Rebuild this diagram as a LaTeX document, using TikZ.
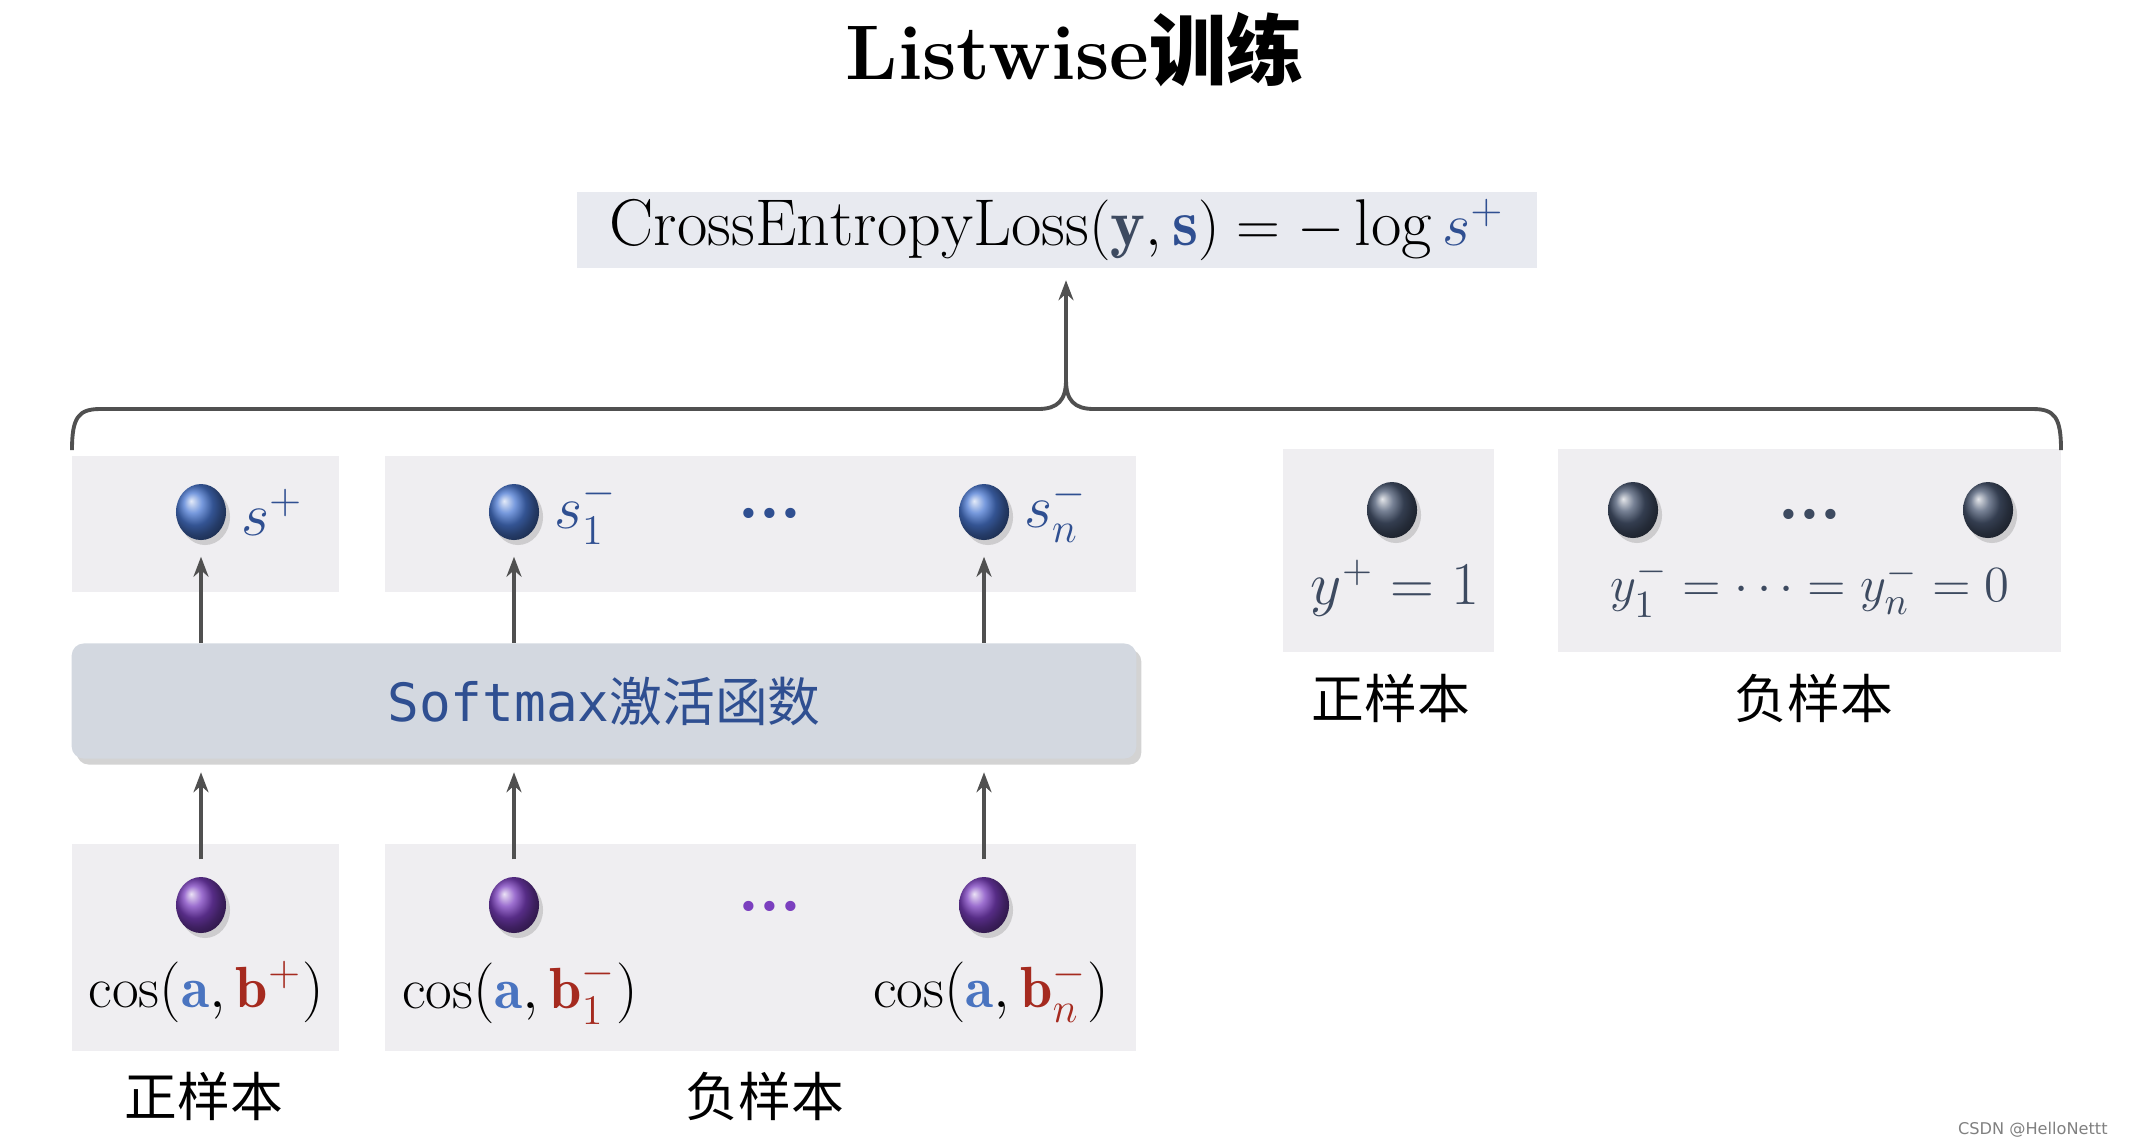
\documentclass[tikz,border=0pt]{standalone}
\usepackage{fontspec}
\usepackage{amsmath}
\newfontfamily\cjk{Noto Sans CJK SC}
\newfontfamily\monofnt{DejaVu Sans Mono}
\newfontfamily\markfnt{DejaVu Sans}
\usetikzlibrary{shapes.geometric,arrows.meta,positioning,shadows}

\definecolor{panelgray}{HTML}{EFEEF1}
\definecolor{lossbg}{HTML}{E8EAF0}
\definecolor{softbg}{HTML}{D3D8E0}
\definecolor{sblue}{HTML}{2F4F91}
\definecolor{acol}{HTML}{4A74C0}
\definecolor{bcol}{HTML}{A52A1F}
\definecolor{ycol}{HTML}{3D4A60}
\definecolor{arrgray}{HTML}{505050}
\definecolor{ballblue}{HTML}{4A78D2}
\definecolor{ballpurple}{HTML}{7B3FBF}
\definecolor{balldark}{HTML}{4A5872}

\begin{document}
\begin{tikzpicture}[x=0.01cm,y=-0.01cm,
  ball/.style={ellipse,minimum width=0.5cm,minimum height=0.56cm,inner sep=0,
    shading=ball,ball color=#1,
    drop shadow={shadow xshift=0.04cm,shadow yshift=-0.05cm,opacity=0.3}},
  arr/.style={draw=arrgray,line width=1pt,-{Stealth[length=0.2cm,width=0.15cm]}},
  lab/.style={font=\cjk\fontsize{15}{15}\selectfont},
  mlab/.style={font=\fontsize{16.5}{16.5}\selectfont},
  dotsnode/.style={font=\markfnt\fontsize{10}{10}\selectfont,text=#1,inner sep=0}]
\useasboundingbox (0,0) rectangle (2134,1144);

% title and loss
\node[font=\fontsize{22}{22}\selectfont\bfseries] (title) at (1075,50) {Listwise{\cjk\bfseries 训练}};
\node[fill=lossbg,inner sep=0,minimum width=9.6cm,minimum height=0.75cm,font=\fontsize{18.8}{18.8}\selectfont] (loss) at (1057,230)
  {$\mathrm{CrossEntropyLoss}(\textcolor{ycol}{\mathbf{y}},\textcolor{sblue}{\mathbf{s}})=-\log\textcolor{sblue}{s^{+}}$};

% panels
\fill[panelgray] (72,456) rectangle (339,592);
\fill[panelgray] (385,456) rectangle (1136,592);
\fill[panelgray] (72,844) rectangle (339,1051);
\fill[panelgray] (385,844) rectangle (1136,1051);
\fill[panelgray] (1283,449) rectangle (1494,652);
\fill[panelgray] (1558,449) rectangle (2061,652);

% softmax
\node[fill=softbg,rounded corners=0.12cm,minimum width=10.64cm,minimum height=1.15cm,
  drop shadow={shadow xshift=0.05cm,shadow yshift=-0.06cm,opacity=0.35},
  text=sblue,font=\fontsize{15}{15}\selectfont] (soft) at (604,701) {{\monofnt Softmax}{\cjk 激活函数}};

% scores
\node[ball=ballblue] (s0) at (201,512) {};
\node[ball=ballblue] (s1) at (514,512) {};
\node[ball=ballblue] (s2) at (984,512) {};
\node[font=\fontsize{18.5}{18.5}\selectfont,right=0.02cm of s0,text=sblue] (ls0) {$s^{+}$};
\node[font=\fontsize{18.5}{18.5}\selectfont,right=0.02cm of s1,text=sblue] (ls1) {$s_1^{-}$};
\node[font=\fontsize{18.5}{18.5}\selectfont,right=0.02cm of s2,text=sblue] (ls2) {$s_n^{-}$};
\node[dotsnode=sblue] (sdots) at (770,517) {•••};

% cosine inputs
\node[ball=ballpurple] (c0) at (201,905) {};
\node[ball=ballpurple] (c1) at (514,905) {};
\node[ball=ballpurple] (c2) at (984,905) {};
\node[mlab] (lc0) at (206,992) {$\cos(\textcolor{acol}{\mathbf{a}},\textcolor{bcol}{\mathbf{b}^{+}})$};
\node[mlab] (lc1) at (520,992) {$\cos(\textcolor{acol}{\mathbf{a}},\textcolor{bcol}{\mathbf{b}_1^{-}})$};
\node[mlab] (lc2) at (991,992) {$\cos(\textcolor{acol}{\mathbf{a}},\textcolor{bcol}{\mathbf{b}_n^{-}})$};
\node[dotsnode=ballpurple] (cdots) at (770,910) {•••};

% labels y
\node[ball=balldark] (y0) at (1392,510) {};
\node[ball=balldark] (y1) at (1633,510) {};
\node[ball=balldark] (y2) at (1988,510) {};
\node[dotsnode=ycol] (ydots) at (1810,518) {•••};
\node[font=\fontsize{16}{16}\selectfont,text=ycol] (ly0) at (1395,588) {$y^{+}=1$};
\node[font=\fontsize{15.5}{15.5}\selectfont,text=ycol] (ly1) at (1810,588) {$y_1^{-}=\cdots=y_n^{-}=0$};

\node[lab] (pos1) at (204,1096) {正样本};
\node[lab] (neg1) at (765,1096) {负样本};
\node[lab] (pos2) at (1391,698) {正样本};
\node[lab] (neg2) at (1814,698) {负样本};

% arrows
\foreach \i in {0,1,2} {
  \draw[arr,shorten <=0.17cm,shorten >=0.13cm] (c\i.north) -- (c\i.north |- soft.south);
  \draw[arr,shorten >=0.16cm] (s\i.south |- soft.north) -- (s\i.south);
}

% brace
\coordinate (tip) at (1066,380);
\draw[draw=arrgray,line width=1.1pt] (72,450) .. controls (72,418) and (78,409) .. (100,409) -- (1038,409)
  .. controls (1058,409) and (1066,400) .. (tip) .. controls (1066,400) and (1074,409) .. (1094,409)
  -- (2033,409) .. controls (2055,409) and (2061,418) .. (2061,450);
\draw[arr,shorten >=0.12cm] (tip) -- (tip |- loss.south);

\node[font=\markfnt\fontsize{4.6}{5}\selectfont,text=gray,anchor=east] (mark) at (2120,1130) {CSDN @HelloNettt};
\end{tikzpicture}
\end{document}
